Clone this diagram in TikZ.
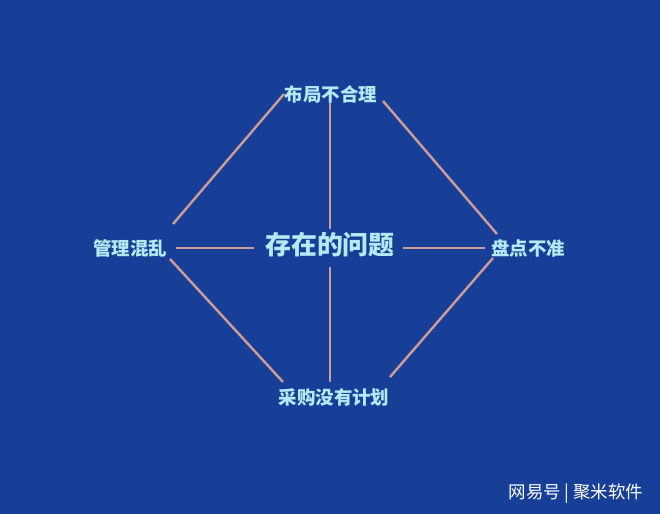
\documentclass[tikz,border=0pt]{standalone}
\usepackage{fontspec}
\setmainfont{Noto Sans CJK SC}
\definecolor{bgblue}{HTML}{183F97}
\definecolor{txtcyan}{HTML}{B5EAF5}
\definecolor{linepink}{HTML}{CF9C98}
\begin{document}
\begin{tikzpicture}[x=1bp,y=-1bp,
  lbl/.style={text=txtcyan,font=\bfseries\fontsize{18.5}{20}\selectfont,inner sep=0pt},
  conn/.style={draw=linepink,line width=2.4bp}]
\fill[bgblue] (0,0) rectangle (660,514);
\useasboundingbox (0,0) rectangle (660,514);
\node[lbl] (top) at (331,94) {布局不合理};
\node[lbl] (left) at (130,248) {管理混乱};
\node[lbl] (right) at (528,248) {盘点不准};
\node[lbl] (bottom) at (334,398) {采购没有计划};
\node[lbl,font=\bfseries\fontsize{26}{28}\selectfont] (center) at (330,245) {存在的问题};
\node[text=white,font=\fontsize{17.5}{19}\selectfont,inner sep=0pt] (wm) at (576,494) {网易号 | 聚米软件};
% connector endpoints
\coordinate (tl1) at (284,94);  \coordinate (tl2) at (173,224);
\coordinate (tr1) at (383,101); \coordinate (tr2) at (497,234);
\coordinate (bl1) at (170,259); \coordinate (bl2) at (283,382);
\coordinate (br1) at (493,258); \coordinate (br2) at (390,377);
\coordinate (vt1) at (330,103); \coordinate (vt2) at (330,229);
\coordinate (vb1) at (330,267); \coordinate (vb2) at (330,382);
\coordinate (hl1) at (176,248); \coordinate (hl2) at (254,248);
\coordinate (hr1) at (403,248); \coordinate (hr2) at (485,248);
\draw[conn] (tl1) -- (tl2);
\draw[conn] (tr1) -- (tr2);
\draw[conn] (bl1) -- (bl2);
\draw[conn] (br1) -- (br2);
\draw[conn] (vt1) -- (vt2);
\draw[conn] (vb1) -- (vb2);
\draw[conn] (hl1) -- (hl2);
\draw[conn] (hr1) -- (hr2);
\end{tikzpicture}
\end{document}
